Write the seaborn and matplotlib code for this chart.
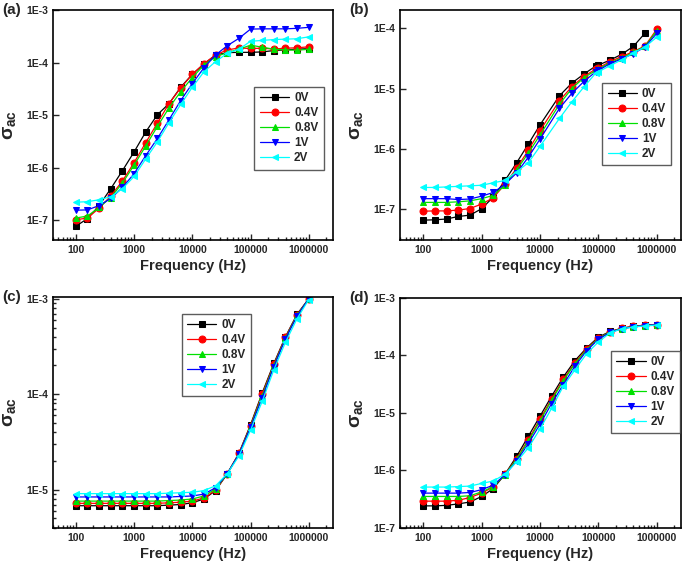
import matplotlib
matplotlib.use("Agg")
import matplotlib.pyplot as plt
import matplotlib.ticker as mticker
import seaborn as sns
import pandas as pd
import numpy as np

sns.set_style("ticks")
plt.rcParams['font.family'] = ['Liberation Sans', 'DejaVu Sans']
plt.rcParams['font.weight'] = 'bold'
plt.rcParams['mathtext.fontset'] = 'custom'
plt.rcParams['mathtext.rm'] = 'Liberation Sans:bold'
plt.rcParams['mathtext.it'] = 'Liberation Sans:bold'
plt.rcParams['mathtext.bf'] = 'Liberation Sans:bold'

labels = ['0V', '0.4V', '0.8V', '1V', '2V']
colors = ['black', 'red', '#00e000', 'blue', 'cyan']
markers = ['s', 'o', '^', 'v', '<']

freq = [100, 158, 251, 398, 631, 1000, 1585, 2512, 3981, 6310, 10000, 15849,
        25119, 39811, 63096, 100000, 158489, 251189, 398107, 630957, 1000000]
freq_b = [100, 158, 251, 398, 631, 1000, 1585, 2512, 3981, 6310, 10000, 21544,
          35000, 56000, 90000, 100000, 158489, 251189, 398107, 630957, 1000000]

a_0V = [7.7e-8, 1.07e-7, 1.9e-7, 4.0e-7, 8.8e-7, 2.0e-6, 4.8e-6, 1.02e-5, 1.66e-5, 3.4e-5, 6.0e-5,
        9.4e-5, 1.4e-4, 1.55e-4, 1.57e-4, 1.57e-4, 1.6e-4, 1.7e-4, 1.75e-4, 1.8e-4, 1.85e-4]
a_04V = [1.02e-7, 1.1e-7, 1.7e-7, 2.9e-7, 5.6e-7, 1.25e-6, 3.0e-6, 7.1e-6, 1.66e-5, 3.3e-5, 6.0e-5,
         9.6e-5, 1.4e-4, 1.75e-4, 1.9e-4, 1.86e-4, 1.88e-4, 1.82e-4, 1.88e-4, 1.92e-4, 2.0e-4]
a_08V = [1.1e-7, 1.2e-7, 1.75e-7, 2.7e-7, 5.1e-7, 1.12e-6, 2.6e-6, 6.1e-6, 1.38e-5, 2.8e-5, 5.2e-5,
         9.0e-5, 1.3e-4, 1.55e-4, 1.8e-4, 2.15e-4, 1.97e-4, 1.8e-4, 1.75e-4, 1.72e-4, 1.8e-4]
a_1V = [1.55e-7, 1.57e-7, 1.9e-7, 2.6e-7, 4.2e-7, 7.7e-7, 1.7e-6, 3.6e-6, 8.2e-6, 1.9e-5, 4.0e-5,
        8.0e-5, 1.4e-4, 2.1e-4, 2.9e-4, 4.35e-4, 4.4e-4, 4.4e-4, 4.4e-4, 4.5e-4, 4.7e-4]
a_2V = [2.2e-7, 2.25e-7, 2.45e-7, 2.8e-7, 4.0e-7, 6.8e-7, 1.47e-6, 3.1e-6, 7.2e-6, 1.6e-5, 3.4e-5,
        6.7e-5, 1.05e-4, 1.5e-4, 1.8e-4, 2.55e-4, 2.65e-4, 2.75e-4, 2.8e-4, 2.85e-4, 3.1e-4]

# 0V in (b) stops at 630957 Hz
b_0V = [6.6e-8, 6.7e-8, 6.9e-8, 7.6e-8, 8.0e-8, 1.02e-7, 1.6e-7, 3.0e-7, 5.9e-7, 1.2e-6, 2.5e-6,
        7.6e-6, 1.23e-5, 1.73e-5, 2.36e-5, 2.45e-5, 2.97e-5, 3.7e-5, 5.0e-5, 8.3e-5]
b_04V = [9.3e-8, 9.4e-8, 9.4e-8, 9.7e-8, 1.03e-7, 1.22e-7, 1.55e-7, 2.6e-7, 4.8e-7, 9.5e-7, 2.0e-6,
         6.3e-6, 1.07e-5, 1.58e-5, 2.1e-5, 2.2e-5, 2.8e-5, 3.4e-5, 4.1e-5, 5.1e-5, 9.6e-5]
b_08V = [1.3e-7, 1.3e-7, 1.3e-7, 1.33e-7, 1.38e-7, 1.5e-7, 1.7e-7, 2.5e-7, 4.5e-7, 8.5e-7, 1.7e-6,
         5.5e-6, 1.0e-5, 1.5e-5, 2.0e-5, 2.1e-5, 2.7e-5, 3.2e-5, 4.0e-5, 5.0e-5, 9.0e-5]
b_1V = [1.5e-7, 1.5e-7, 1.5e-7, 1.45e-7, 1.48e-7, 1.65e-7, 1.9e-7, 2.6e-7, 4.0e-7, 7.3e-7, 1.45e-6,
        4.7e-6, 8.3e-6, 1.3e-5, 1.9e-5, 2.0e-5, 2.6e-5, 3.1e-5, 3.8e-5, 4.9e-5, 8.2e-5]
b_2V = [2.3e-7, 2.3e-7, 2.35e-7, 2.4e-7, 2.45e-7, 2.5e-7, 2.75e-7, 3.0e-7, 4.2e-7, 5.9e-7, 1.1e-6,
        3.2e-6, 6.0e-6, 1.05e-5, 1.8e-5, 1.9e-5, 2.4e-5, 3.0e-5, 3.9e-5, 4.9e-5, 7.1e-5]

c_0V = [6.8e-6, 6.8e-6, 6.8e-6, 6.8e-6, 6.8e-6, 6.8e-6, 6.8e-6, 6.8e-6, 6.9e-6, 7.0e-6, 7.3e-6,
        8.0e-6, 9.8e-6, 1.47e-5, 2.4e-5, 4.8e-5, 1.03e-4, 2.1e-4, 4.0e-4, 6.9e-4, 1.0e-3]
c_04V = [7.2e-6, 7.2e-6, 7.2e-6, 7.2e-6, 7.2e-6, 7.2e-6, 7.2e-6, 7.2e-6, 7.3e-6, 7.4e-6, 7.6e-6,
         8.2e-6, 9.9e-6, 1.47e-5, 2.4e-5, 4.7e-5, 1.0e-4, 2.05e-4, 3.95e-4, 6.8e-4, 1.0e-3]
c_08V = [7.6e-6, 7.6e-6, 7.6e-6, 7.6e-6, 7.6e-6, 7.6e-6, 7.6e-6, 7.6e-6, 7.7e-6, 7.8e-6, 8.0e-6,
         8.6e-6, 1.02e-5, 1.47e-5, 2.35e-5, 4.6e-5, 9.6e-5, 2.0e-4, 3.85e-4, 6.7e-4, 1.0e-3]
c_1V = [8.4e-6, 8.4e-6, 8.4e-6, 8.4e-6, 8.4e-6, 8.4e-6, 8.4e-6, 8.4e-6, 8.4e-6, 8.5e-6, 8.6e-6,
        9.0e-6, 1.05e-5, 1.47e-5, 2.35e-5, 4.5e-5, 9.2e-5, 1.95e-4, 3.8e-4, 6.6e-4, 1.0e-3]
c_2V = [9.1e-6, 9.1e-6, 9.1e-6, 9.1e-6, 9.1e-6, 9.1e-6, 9.1e-6, 9.1e-6, 9.2e-6, 9.3e-6, 9.4e-6,
        9.8e-6, 1.1e-5, 1.47e-5, 2.25e-5, 4.2e-5, 8.4e-5, 1.8e-4, 3.5e-4, 6.2e-4, 9.8e-4]

d_0V = [2.4e-7, 2.4e-7, 2.45e-7, 2.6e-7, 2.8e-7, 3.5e-7, 4.8e-7, 8.5e-7, 1.75e-6, 3.9e-6, 8.7e-6,
        1.95e-5, 4.2e-5, 8.1e-5, 1.35e-4, 2.07e-4, 2.6e-4, 2.95e-4, 3.2e-4, 3.35e-4, 3.4e-4]
d_04V = [2.9e-7, 2.9e-7, 2.9e-7, 3.0e-7, 3.35e-7, 4.0e-7, 5.1e-7, 8.5e-7, 1.6e-6, 3.4e-6, 7.7e-6,
         1.75e-5, 3.8e-5, 7.5e-5, 1.3e-4, 2.0e-4, 2.55e-4, 2.95e-4, 3.2e-4, 3.35e-4, 3.4e-4]
d_08V = [3.5e-7, 3.5e-7, 3.5e-7, 3.5e-7, 3.6e-7, 4.2e-7, 5.2e-7, 8.4e-7, 1.55e-6, 3.2e-6, 7.2e-6,
         1.65e-5, 3.6e-5, 7.2e-5, 1.25e-4, 1.95e-4, 2.55e-4, 2.9e-4, 3.15e-4, 3.3e-4, 3.35e-4]
d_1V = [4.0e-7, 4.0e-7, 4.0e-7, 4.0e-7, 4.1e-7, 4.6e-7, 5.5e-7, 8.3e-7, 1.45e-6, 2.9e-6, 6.3e-6,
        1.45e-5, 3.1e-5, 6.5e-5, 1.2e-4, 1.9e-4, 2.5e-4, 2.9e-4, 3.15e-4, 3.3e-4, 3.4e-4]
d_2V = [5.1e-7, 5.1e-7, 5.1e-7, 5.2e-7, 5.3e-7, 5.9e-7, 6.5e-7, 8.5e-7, 1.4e-6, 2.45e-6, 5.2e-6,
        1.2e-5, 2.9e-5, 5.6e-5, 1.07e-4, 1.7e-4, 2.45e-4, 2.9e-4, 3.1e-4, 3.25e-4, 3.35e-4]

panels = [
    ('(a)', freq, [a_0V, a_04V, a_08V, a_1V, a_2V], (4.2e-8, 1e-3), [0.077, 0.573, 0.409, 0.409], (0.72, 0.665)),
    ('(b)', freq_b, [b_0V, b_04V, b_08V, b_1V, b_2V], (3.1e-8, 2e-4), [0.584, 0.573, 0.410, 0.409], (0.72, 0.685)),
    ('(c)', freq, [c_0V, c_04V, c_08V, c_1V, c_2V], (4e-6, 1.05e-3), [0.077, 0.061, 0.409, 0.411], (0.46, 0.925)),
    ('(d)', freq, [d_0V, d_04V, d_08V, d_1V, d_2V], (1e-7, 1e-3), [0.584, 0.061, 0.410, 0.409], (0.75, 0.77)),
]

fig = plt.figure(figsize=(6.85, 5.62), dpi=100)

for tag, fx, series, ylim, pos, legpos in panels:
    ax = fig.add_axes(pos)
    for lab, col, mk, vals in zip(labels, colors, markers, series):
        df = pd.DataFrame({'f': fx[:len(vals)], 's': vals})
        sns.lineplot(data=df, x='f', y='s', ax=ax, color=col, marker=mk, markersize=5,
                     markeredgecolor=col, linewidth=0.9, label=lab)
    ax.set_xscale('log')
    ax.set_yscale('log')
    ax.set_xlim(40, 2.6e6)
    ax.set_ylim(*ylim)
    ax.set_xticks([100, 1000, 10000, 100000, 1000000])
    ax.xaxis.set_major_formatter(mticker.FuncFormatter(lambda v, p: f"{int(round(v))}"))
    ax.xaxis.set_minor_locator(mticker.LogLocator(base=10, subs=np.arange(2, 10), numticks=20))
    ax.yaxis.set_major_locator(mticker.LogLocator(base=10, numticks=20))
    ax.yaxis.set_major_formatter(mticker.FuncFormatter(lambda v, p: f"1E{int(round(np.log10(v)))}"))
    if tag == '(c)':
        ax.yaxis.set_minor_locator(mticker.LogLocator(base=10, subs=np.arange(2, 10), numticks=20))
    else:
        ax.yaxis.set_minor_locator(mticker.NullLocator())
    ax.tick_params(which='both', direction='in', labelsize=7.5, width=1)
    ax.tick_params(which='major', length=4)
    ax.tick_params(which='minor', length=2.5)
    for lbl in ax.get_xticklabels() + ax.get_yticklabels():
        lbl.set_fontweight('bold')
    for sp in ax.spines.values():
        sp.set_linewidth(1.2)
        sp.set_color('black')
    ax.set_xlabel('Frequency (Hz)', fontsize=10.5, fontweight='bold', labelpad=3)
    ax.set_ylabel(r'$\sigma_{ac}$', fontsize=14, labelpad=6)
    ax.text(-0.18, 1.0, tag, transform=ax.transAxes, fontsize=11, fontweight='bold',
            ha='left', va='center')
    leg = ax.legend(loc='upper left', bbox_to_anchor=legpos, frameon=True, fancybox=False,
                    edgecolor='#333333', fontsize=8.5, handlelength=2.5, handletextpad=0.4,
                    borderpad=0.45, labelspacing=0.25, borderaxespad=0)
    leg.get_frame().set_linewidth(1.0)
    for t in leg.get_texts():
        t.set_fontweight('bold')

fig.savefig('out.png', dpi=100)
